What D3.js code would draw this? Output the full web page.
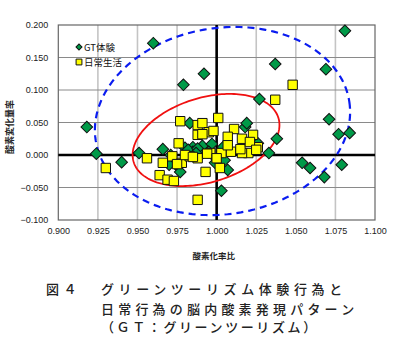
<!DOCTYPE html>
<html lang="ja">
<head>
  <meta charset="UTF-8">
  <title>図4</title>
  <script src="https://cdn.jsdelivr.net/npm/d3@7"></script>
  <style>
    body { margin: 0; background: #fff; }
    .tick text { font-family: 'Liberation Sans', Arial, sans-serif; font-size: 9px; fill: #222; }
    .axisTitle { font-family: 'Noto Sans CJK JP', sans-serif; font-weight: 700; fill: #222; }
    .legendText { font-family: 'Noto Sans CJK JP', 'Liberation Sans', sans-serif; font-size: 9.5px; fill: #111; }
    .caption { font-family: 'Noto Sans CJK JP', sans-serif; font-size: 13px; font-weight: 500; fill: #222; }
  </style>
</head>
<body>
<div class="container"></div>
<script>
  // tick values
  var xTicks = [0.900, 0.925, 0.950, 0.975, 1.000, 1.025, 1.050, 1.075, 1.100];
  var yTicks = [-0.100, -0.050, 0.000, 0.050, 0.100, 0.150, 0.200];

  // GT体験 (diamonds)  [酸素化率比, 酸素変化量率]
  var gtPoints = [
    [0.960, 0.172], [0.979, 0.108], [0.992, 0.125], [0.918, 0.043], [1.081, 0.191],
    [1.037, 0.140], [1.069, 0.132], [1.027, 0.086], [1.071, 0.055], [1.077, 0.032],
    [1.084, 0.034], [1.038, 0.025], [1.033, 0.003], [1.054, -0.012], [1.059, -0.020],
    [1.068, -0.034], [1.079, -0.015], [1.018, 0.043], [1.019, 0.049], [0.924, 0.002],
    [0.940, -0.011], [0.951, 0.003], [0.966, 0.009], [0.977, -0.026], [0.983, 0.049],
    [0.980, 0.011], [0.985, 0.012], [0.991, 0.014], [0.997, 0.017], [0.971, 0.000],
    [0.974, -0.014], [0.990, 0.000], [0.995, 0.005], [0.985, 0.005], [1.004, 0.012],
    [1.026, 0.018], [0.999, -0.012], [1.007, -0.023], [1.003, -0.055], [0.982, 0.008],
    [0.988, 0.010], [1.000, -0.006], [1.005, -0.008], [0.970, -0.015], [0.987, 0.003]
  ];

  // 日常生活 (squares)
  var dailyPoints = [
    [1.048, 0.108], [1.037, 0.085], [0.930, -0.020], [0.956, -0.005], [0.966, -0.012],
    [0.976, 0.018], [0.972, -0.002], [0.964, -0.031], [0.969, -0.038], [0.973, -0.040],
    [0.988, -0.069], [0.978, -0.012], [0.977, 0.052], [0.988, 0.046], [0.988, 0.031],
    [0.983, -0.002], [0.988, -0.005], [1.001, 0.057], [0.991, 0.049], [0.995, 0.035],
    [0.991, 0.032], [1.011, 0.040], [1.007, 0.028], [1.016, 0.025], [1.023, 0.031],
    [1.026, 0.012], [1.020, 0.003], [1.016, 0.003], [1.009, 0.005], [1.003, 0.003],
    [0.996, 0.003], [0.993, -0.026], [1.002, -0.020], [0.975, -0.014], [0.980, 0.000],
    [0.985, -0.003], [0.994, 0.002], [1.000, -0.005], [1.007, 0.015], [1.015, 0.009],
    [1.021, 0.020], [0.998, 0.037], [1.025, 0.008]
  ];

  // ellipses: centre and two half-axis vectors, in data units
  var ellipseCenters = [[1.0037, 0.0523], [0.9933, 0.0231]];
  var ellipseAxes = [
    [[0.0801, 0.0295], [0.0088, -0.1417]],
    [[0.0457, 0.0340], [0.0078, -0.0622]]
  ];

  var seriesNames = ['GT体験', '日常生活'];
  var xTitle = '酸素化率比';
  var yTitle = '酸素変化量率';
  var captionLines = ['グリーンツーリズム体験行為と', '日常行為の脳内酸素発現パターン', '（ＧＴ：グリーンツーリズム）'];

  var svgWidth = 400, svgHeight = 351;
  var margin = {top: 25, left: 58.3, right: 25, bottom: 131};
  var svg = d3.select('.container').append('svg')
    .attr('width', svgWidth).attr('height', svgHeight);

  var x = d3.scaleLinear().domain([0.9, 1.1]).range([58.3, 375]);
  var y = d3.scaleLinear().domain([-0.1, 0.2]).range([220, 25]);

  // grid
  svg.append('g').selectAll('line').data(xTicks.slice(1, -1)).enter().append('line')
    .attr('x1', d => x(d)).attr('x2', d => x(d))
    .attr('y1', y(0.2)).attr('y2', y(-0.1))
    .attr('stroke', '#c4c4c4').attr('stroke-width', 1.6);
  svg.append('g').selectAll('line').data(yTicks.slice(1, -1)).enter().append('line')
    .attr('x1', x(0.9)).attr('x2', x(1.1))
    .attr('y1', d => y(d)).attr('y2', d => y(d))
    .attr('stroke', '#8a8a8a').attr('stroke-width', 1);

  // border
  svg.append('rect')
    .attr('x', x(0.9)).attr('y', y(0.2))
    .attr('width', x(1.1) - x(0.9)).attr('height', y(-0.1) - y(0.2))
    .attr('fill', 'none').attr('stroke', '#666').attr('stroke-width', 1.2);

  // axes (labels only)
  var xAxis = d3.axisBottom(x).tickValues(xTicks).tickFormat(d3.format('.3f')).tickSize(0).tickPadding(8);
  svg.append('g').attr('transform', `translate(0,${y(-0.1)})`).call(xAxis)
    .call(g => g.select('.domain').remove());
  var yAxis = d3.axisLeft(y).tickValues(yTicks).tickFormat(d3.format('.3f')).tickSize(0).tickPadding(10);
  svg.append('g').attr('transform', `translate(${x(0.9)},0)`).call(yAxis)
    .call(g => g.select('.domain').remove());

  // heavy reference lines
  svg.append('line')
    .attr('x1', x(1.0)).attr('x2', x(1.0)).attr('y1', y(0.2)).attr('y2', y(-0.1))
    .attr('stroke', '#000').attr('stroke-width', 2.6);
  svg.append('line')
    .attr('x1', x(0.9)).attr('x2', x(1.1)).attr('y1', y(0)).attr('y2', y(0))
    .attr('stroke', '#000').attr('stroke-width', 2.6);

  // ellipses
  var angles = d3.range(0, 2 * Math.PI, Math.PI / 90);
  var ellipseLine = d3.line().x(d => x(d[0])).y(d => y(d[1])).curve(d3.curveLinearClosed);
  function ellipsePoints(i) {
    var c = ellipseCenters[i], a = ellipseAxes[i][0], b = ellipseAxes[i][1];
    return angles.map(t => [c[0] + Math.cos(t) * a[0] + Math.sin(t) * b[0],
                            c[1] + Math.cos(t) * a[1] + Math.sin(t) * b[1]]);
  }
  svg.append('path').attr('d', ellipseLine(ellipsePoints(0)))
    .attr('fill', 'none').attr('stroke', '#0a1cf0').attr('stroke-width', 2.2)
    .attr('stroke-dasharray', '7,5');
  svg.append('path').attr('d', ellipseLine(ellipsePoints(1)))
    .attr('fill', 'none').attr('stroke', '#f01010').attr('stroke-width', 1.8);

  // markers
  var diamond = d3.symbol().type(d3.symbolSquare).size(68);
  var square = d3.symbol().type(d3.symbolSquare).size(88);
  svg.append('g').selectAll('path').data(gtPoints).enter().append('path')
    .attr('d', diamond)
    .attr('transform', d => `translate(${x(d[0])},${y(d[1])}) rotate(45)`)
    .attr('fill', '#009a48').attr('stroke', '#111').attr('stroke-width', 1);
  svg.append('g').selectAll('path').data(dailyPoints).enter().append('path')
    .attr('d', square)
    .attr('transform', d => `translate(${x(d[0])},${y(d[1])})`)
    .attr('fill', '#ffff00').attr('stroke', '#111').attr('stroke-width', 1);

  // legend
  var legend = svg.append('g').attr('transform', 'translate(79,47)');
  legend.append('path').attr('d', d3.symbol().type(d3.symbolSquare).size(18))
    .attr('transform', 'rotate(45)')
    .attr('fill', '#009a48').attr('stroke', '#111').attr('stroke-width', 1);
  legend.append('text').attr('class', 'legendText').attr('x', 5).attr('y', 3.5).text(seriesNames[0]);
  legend.append('path').attr('d', d3.symbol().type(d3.symbolSquare).size(34))
    .attr('transform', 'translate(0,15)')
    .attr('fill', '#ffff00').attr('stroke', '#111').attr('stroke-width', 1);
  legend.append('text').attr('class', 'legendText').attr('x', 5).attr('y', 18.5).text(seriesNames[1]);

  // axis titles
  svg.append('text').attr('class', 'axisTitle').style('font-size', '8.5px')
    .attr('x', x(1.0) - 3).attr('y', 259).attr('text-anchor', 'middle').text(xTitle);
  svg.append('text').attr('class', 'axisTitle').style('font-size', '9px')
    .attr('transform', 'translate(13,127) rotate(-90)').attr('text-anchor', 'middle').text(yTitle);

  // caption
  svg.append('text').attr('class', 'caption').attr('x', 46).attr('y', 294)
    .style('letter-spacing', '4.5px').text('図４');
  svg.append('text').attr('class', 'caption').attr('x', 101).attr('y', 294)
    .style('letter-spacing', '4.6px').text(captionLines[0]);
  svg.append('text').attr('class', 'caption').attr('x', 101).attr('y', 314)
    .style('letter-spacing', '4.2px').text(captionLines[1]);
  svg.append('text').attr('class', 'caption').attr('x', 101).attr('y', 332)
    .style('letter-spacing', '2.6px').text(captionLines[2]);
</script>
</body>
</html>
